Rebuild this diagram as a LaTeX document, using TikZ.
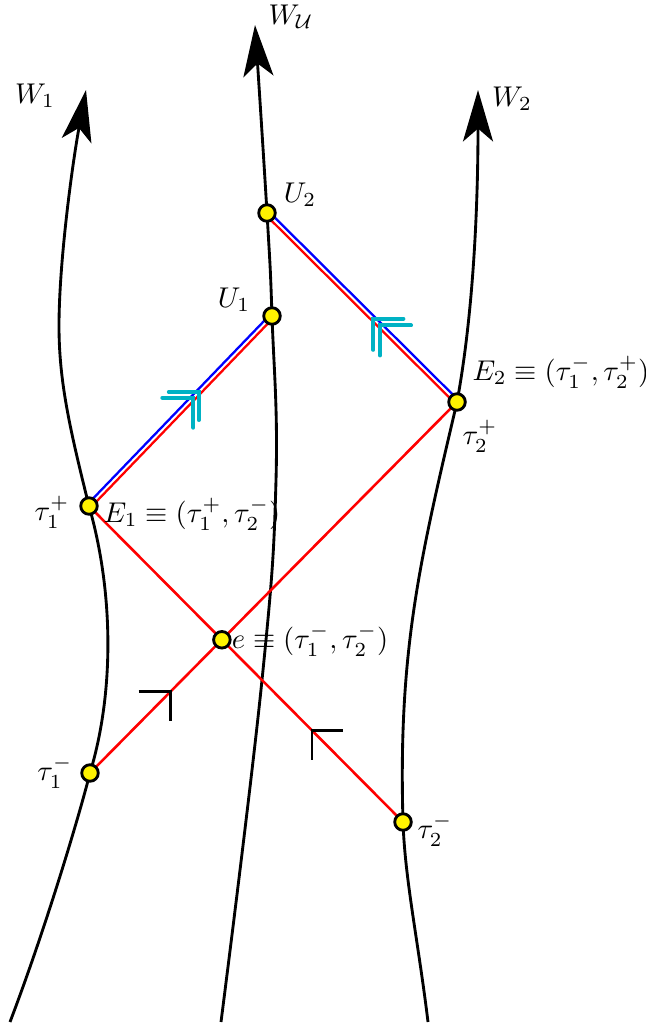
\documentclass[tikz,border=0pt]{standalone}
\usetikzlibrary{arrows.meta, calc}
\definecolor{chevcyan}{RGB}{0,178,196}

\begin{document}
\begin{tikzpicture}[
        x=0.35pt, y=-0.35pt,
        world/.style={line width=1pt, -{Stealth[length=18pt, width=10.5pt, inset=4.5pt]}},
        ray/.style={red, line width=0.9pt},
        rayred/.style={red, line width=0.8pt},
        rayblue/.style={blue, line width=0.8pt},
        dot/.style={circle, draw=black, fill=yellow, line width=1pt, inner sep=0pt, minimum size=5.8pt},
        chevblack/.style={black, line width=1pt},
        chevcy/.style={chevcyan, line width=1.4pt, line cap=round}
        ]
        \useasboundingbox (0,0) rectangle (645,1026);

        % events
        \coordinate (tma) at (90,773);
        \coordinate (E1) at (89,506);
        \coordinate (tmb) at (403,822);
        \coordinate (E2) at (457,402);
        \coordinate (U1) at (272,316);
        \coordinate (U2) at (267,213);
        \coordinate (e) at (intersection of tma--E2 and E1--tmb);

        % world lines
        \draw[world] (10,1022) .. controls (45,930) and (78,820) .. (tma)
            .. controls (115,690) and (113,590) .. (E1)
            .. controls (69,426) and (59,380) .. (59,326)
            .. controls (59,260) and (73,160) .. (86,90);
        \draw[world] plot[smooth, tension=0.7] coordinates {(221,1022) (262,680) (276,480) (U1) (U2) (255,25)};
        \draw[world] (428,1022) .. controls (418,940) and (405,880) .. (tmb)
            .. controls (398,650) and (420,560) .. (E2)
            .. controls (474,310) and (478,200) .. (478,90);

        % light rays
        \draw[ray] (tma) -- (E2);
        \draw[ray] (E1) -- (tmb);
        \draw[rayred] ($(E1)+(1.6,1.6)$) -- ($(U1)+(1.6,1.6)$);
        \draw[rayblue] ($(E1)+(-1.6,-1.6)$) -- ($(U1)+(-1.6,-1.6)$);
        \draw[rayred] ($(E2)+(-1.6,1.6)$) -- ($(U2)+(-1.6,1.6)$);
        \draw[rayblue] ($(E2)+(1.6,-1.6)$) -- ($(U2)+(1.6,-1.6)$);

        % direction marks
        \draw[chevblack] ($(tma)!0.22!(E2)$) +(-32,0) -- +(0,0) -- +(0,30);
        \draw[chevblack] ($(tmb)!0.29!(E1)$) +(31,0) -- +(0,0) -- +(0,30);
        \draw[chevcy] ($(E1)!0.57!(U1)$) +(-31,0) -- +(0,0) -- +(0,30);
        \draw[chevcy] ($(E1)!0.60!(U1)$) +(-30,0) -- +(0,0) -- +(0,28);
        \draw[chevcy] ($(E2)!0.405!(U2)$) +(31,0) -- +(0,0) -- +(0,30);
        \draw[chevcy] ($(E2)!0.44!(U2)$) +(30,0) -- +(0,0) -- +(0,31);

        % dots
        \node[dot] (dtma) at (tma) {};
        \node[dot] (dE1) at (E1) {};
        \node[dot] (de) at (e) {};
        \node[dot] (dtmb) at (tmb) {};
        \node[dot] (dE2) at (E2) {};
        \node[dot] (dU1) at (U1) {};
        \node[dot] (dU2) at (U2) {};

        % labels
        \node (lW1) at (35,96) {$W_1$};
        \node (lWU) at (291,17) {$W_{\mathcal{U}}$};
        \node (lW2) at (512,99) {$W_2$};
        \node (lU2) at (300,195) {$U_2$};
        \node (lU1) at (234,300) {$U_1$};
        \node (lE2) at (561,372) {$E_2\equiv(\tau_1^-,\tau_2^+)$};
        \node (ltpb) at (480,436) {$\tau_2^+$};
        \node (ltpa) at (52,512) {$\tau_1^+$};
        \node (lE1) at (192,514) {$E_1\equiv(\tau_1^+,\tau_2^-)$};
        \node (le) at (310,640) {$e\equiv(\tau_1^-,\tau_2^-)$};
        \node (ltma) at (55,772) {$\tau_1^-$};
        \node (ltmb) at (435,830) {$\tau_2^-$};
    \end{tikzpicture}
\end{document}
